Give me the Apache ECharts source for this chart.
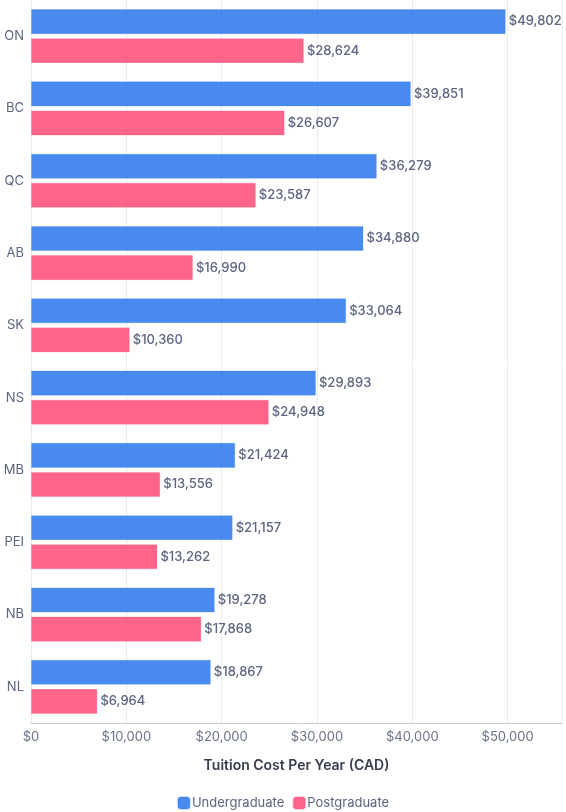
<!DOCTYPE html>
<html>
<head>
<meta charset="utf-8">
<style>
html,body{margin:0;padding:0;background:#fff;}
#c{width:566px;height:812px;}
</style>
<script src="https://cdn.jsdelivr.net/npm/echarts@6/dist/echarts.min.js"></script>
</head>
<body>
<div id="c"></div>
<script>
const categories = ['ON','BC','QC','AB','SK','NS','MB','PEI','NB','NL'];
const undergraduate = [49802,39851,36279,34880,33064,29893,21424,21157,19278,18867];
const postgraduate = [28624,26607,23587,16990,10360,24948,13556,13262,17868,6964];
const xTicks = [0,10000,20000,30000,40000,50000];

const fmt = v => '$' + Math.round(v).toLocaleString('en-US');
const FONT = 'Inter, "Noto Sans", sans-serif';
const chart = echarts.init(document.getElementById('c'), null, {renderer:'canvas'});
chart.setOption({
  animation:false,
  textStyle:{fontFamily:FONT},
  legend:{
    top:791, left:'center',
    icon:'roundRect', itemWidth:12, itemHeight:12, itemGap:8,
    textStyle:{color:'#5d6580', fontSize:13, fontFamily:FONT, padding:[0,0,0,-3]},
    data:['Undergraduate','Postgraduate']
  },
  grid:{left:31, right:4, top:0, bottom:89, containLabel:false},
  xAxis:{
    type:'value', min:0, max:55700, interval:10000,
    axisLine:{show:true, lineStyle:{color:'#c8ccd4'}},
    axisTick:{show:false},
    splitLine:{show:true, lineStyle:{color:'#ececef'}},
    axisLabel:{color:'#6b7389', fontSize:13, fontFamily:FONT, margin:8, formatter:v=>fmt(v), showMaxLabel:false},
    name:'Tuition Cost Per Year (CAD)', nameLocation:'middle', nameGap:36,
    nameTextStyle:{color:'#373d4f', fontSize:14, fontWeight:600, fontFamily:FONT}
  },
  yAxis:{
    type:'category', inverse:true, data:categories,
    axisLine:{show:false}, axisTick:{show:false},
    splitLine:{show:false},
    axisLabel:{color:'#5d6580', fontSize:13, fontFamily:FONT, margin:7}
  },
  series:[
    {name:'Undergraduate', type:'bar', data:undergraduate,
     itemStyle:{color:'rgba(27,109,235,0.8)', borderColor:'rgba(27,109,235,0.2)', borderWidth:1},
     barGap:'16%', barCategoryGap:'25%',
     label:{show:true, position:'right', distance:3, color:'#5d6580', fontSize:13, fontWeight:500, fontFamily:FONT, formatter:p=>fmt(p.value)}},
    {name:'Postgraduate', type:'bar', data:postgraduate,
     itemStyle:{color:'rgba(255,61,110,0.8)', borderColor:'rgba(255,61,110,0.2)', borderWidth:1},
     barGap:'16%', barCategoryGap:'25%',
     label:{show:true, position:'right', distance:3, color:'#5d6580', fontSize:13, fontWeight:500, fontFamily:FONT, formatter:p=>fmt(p.value)}}
  ],
  color:['#1b6deb','#ff3d6e']
});
</script>
</body>
</html>
